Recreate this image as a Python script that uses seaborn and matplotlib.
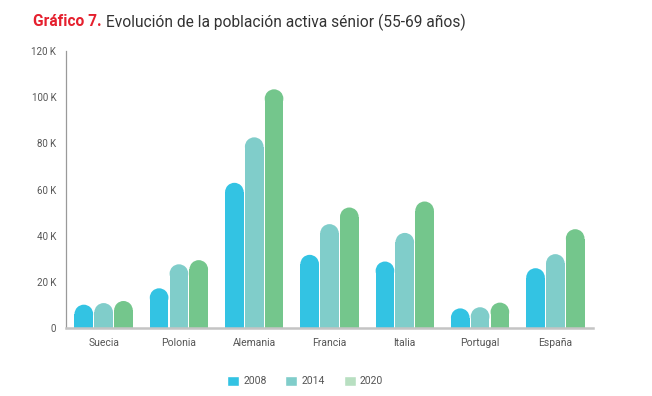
import numpy as np
import pandas as pd
import matplotlib
matplotlib.use("Agg")
import matplotlib.pyplot as plt
import seaborn as sns
from matplotlib.patches import Ellipse, Patch
from matplotlib.ticker import FuncFormatter

# datos (miles de personas)
paises = ["Suecia", "Polonia", "Alemania", "Francia", "Italia", "Portugal", "España"]
anios = ["2008", "2014", "2020"]
v2008 = [10.1, 17.2, 62.9, 31.7, 28.8, 8.5, 25.9]
v2014 = [10.8, 27.6, 82.6, 45.0, 41.2, 9.0, 32.0]
v2020 = [11.7, 29.4, 103.4, 52.2, 54.8, 11.0, 42.8]
y_ticks = [0, 20, 40, 60, 80, 100, 120]

colores = ["#33c3e3", "#80cdca", "#74c68c"]
colores_leyenda = ["#33c3e3", "#80cdca", "#b8dfc1"]

df = pd.DataFrame({
    "pais": paises * 3,
    "anio": np.repeat(anios, len(paises)),
    "valor": v2008 + v2014 + v2020,
})

sns.set_style("white")
plt.rcParams["font.family"] = ["Roboto", "DejaVu Sans"]

W, H = 652, 396
fig = plt.figure(figsize=(W / 100, H / 100), dpi=100)
ax_pos = [66 / W, 1 - 328 / H, (593 - 66) / W, (328 - 51) / H]
ax = fig.add_axes(ax_pos)

sns.barplot(data=df, x="pais", y="valor", hue="anio", palette=colores,
            width=0.79, gap=0.06, saturation=1, linewidth=0,
            legend=False, ax=ax)
ax.set_xlim(-0.5, len(paises) - 0.5)
ax.set_ylim(0, 120)

# esquinas redondeadas arriba: recorto la barra y pongo una media elipse
pxx = W * ax_pos[2] / len(paises)
pxy = H * ax_pos[3] / 120
for p in list(ax.patches):
    x, w, h = p.get_x(), p.get_width(), p.get_height()
    if h <= 0:
        continue
    ry = (w * pxx / 2) / pxy
    p.set_height(h - ry)
    ax.add_patch(Ellipse((x + w / 2, h - ry), w, 2 * ry,
                         facecolor=p.get_facecolor(), linewidth=0))

ax.set_yticks(y_ticks)
ax.yaxis.set_major_formatter(FuncFormatter(lambda v, _: "0" if v == 0 else f"{int(v)} K"))
ax.set_xlabel("")
ax.set_ylabel("")
ax.tick_params(axis="both", length=0, colors="#555555", labelsize=7)
ax.tick_params(axis="y", pad=7)
ax.tick_params(axis="x", pad=7, labelsize=7.5)
sns.despine(ax=ax)
ax.spines["left"].set_color("#9a9a9a")
ax.spines["left"].set_linewidth(0.9)
ax.spines["bottom"].set_color("#c4c4c4")
ax.spines["bottom"].set_linewidth(1.8)

# titulo en dos partes
t1 = fig.text(33 / W, 1 - 22 / H, "Gráfico 7.", color="#e5202e",
              fontweight="bold", fontsize=11.2, va="center")
fig.canvas.draw()
bb = t1.get_window_extent()
fig.text((bb.x1 + 4) / W, 1 - 22 / H, "Evolución de la población activa sénior (55-69 años)",
         color="#333333", fontsize=11.2, va="center")

handles = [Patch(facecolor=c, label=a) for c, a in zip(colores_leyenda, anios)]
fig.legend(handles=handles, ncol=3, loc="center", bbox_to_anchor=(0.468, 1 - 381 / H),
           frameon=False, handlelength=1.15, handleheight=1.15, columnspacing=1.8,
           handletextpad=0.4, fontsize=7.5, labelcolor="#555555")

fig.savefig("out.png", dpi=100)
